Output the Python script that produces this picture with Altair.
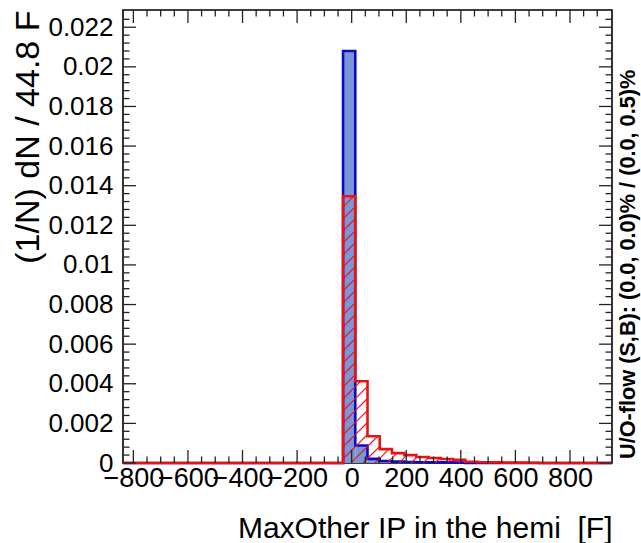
import altair as alt
import pandas as pd
import numpy as np

# ---------------- data ----------------
x_min = -838.0
bin_width = 44.8
n_bins = 40
x_max = x_min + n_bins * bin_width
y_max = 0.02287

signal = [0] * 18 + [0.0208, 0.00088, 0.00021, 0.0001, 0.00007, 0.00005,
                     0.00004, 0.00003, 0.00003, 0.00002] + [0] * 12
background = [0] * 18 + [0.01347, 0.00413, 0.00135, 0.0007, 0.0005, 0.0004,
                         0.0003, 0.00025, 0.0002, 0.00016, 0.00006, 0.00004,
                         0.00003, 0.00002, 0.00002, 0.00001] + [0] * 6

x_major = [-800, -600, -400, -200, 0, 200, 400, 600, 800]
x_minor = [-750, -700, -650, -550, -500, -450, -350, -300, -250, -150, -100, -50,
           50, 100, 150, 250, 300, 350, 450, 500, 550, 650, 700, 750, 850, 900]
y_major = [0, 0.002, 0.004, 0.006, 0.008, 0.01, 0.012, 0.014, 0.016, 0.018, 0.02, 0.022]
y_minor = [0.0004, 0.0008, 0.0012, 0.0016, 0.0024, 0.0028, 0.0032, 0.0036,
           0.0044, 0.0048, 0.0052, 0.0056, 0.0064, 0.0068, 0.0072, 0.0076,
           0.0084, 0.0088, 0.0092, 0.0096, 0.0104, 0.0108, 0.0112, 0.0116,
           0.0124, 0.0128, 0.0132, 0.0136, 0.0144, 0.0148, 0.0152, 0.0156,
           0.0164, 0.0168, 0.0172, 0.0176, 0.0184, 0.0188, 0.0192, 0.0196,
           0.0204, 0.0208, 0.0212, 0.0216, 0.0224]

x_title = "MaxOther IP in the hemi\u00a0 [F]"
y_title = "(1/N) dN / 44.8 F"
uo_text = "U/O-flow (S,B): (0.0, 0.0)% / (0.0, 0.5)%"

# ---------------- layout / style ----------------
W, H = 489, 453
FONT = "Liberation Sans"
BLUE_FILL = "#7b96d6"
BLUE_LINE = "#0a0ac8"
RED = "#e81414"
MAJ, MIN = 13, 6.5

edges = [x_min + k * bin_width for k in range(n_bins + 1)]

sig_rect = pd.DataFrame({"x": edges[:-1], "x2": edges[1:], "y": signal, "y0": 0.0})
sig_rect = sig_rect[sig_rect["y"] > 0]
sig_step = pd.DataFrame({"x": edges, "y": signal + [signal[-1]]})
bkg_step = pd.DataFrame({"x": edges, "y": background + [background[-1]]})

# hatch pattern for background (45 degree lines in pixel space)
kx = W / (x_max - x_min)
ky = H / y_max
S = 12.0
hatch = []
for k, v in enumerate(background):
    if v <= 0:
        continue
    x0p = (edges[k] - x_min) * kx
    x1p = (edges[k + 1] - x_min) * kx
    hp = v * ky
    nmin = int(np.floor(-x1p / S)) - 1
    nmax = int(np.ceil((hp - x0p) / S)) + 1
    for n in range(nmin, nmax + 1):
        c = n * S
        xs = max(x0p, -c)
        xe = min(x1p, hp - c)
        if xe - xs > 0.8:
            hatch.append({"x": x_min + xs / kx, "y": (xs + c) / ky,
                          "x2": x_min + xe / kx, "y2": (xe + c) / ky})
hatch = pd.DataFrame(hatch)

xscale = alt.Scale(domain=[x_min, x_max], nice=False, zero=False)
yscale = alt.Scale(domain=[0, y_max], nice=False, zero=False)

xaxis = alt.Axis(values=x_major, format="d", ticks=False, tickSize=0, domain=False,
                 grid=False, labelFont=FONT, labelFontSize=27, labelColor="black",
                 labelPadding=2, labelOverlap=False, labelFlush=False, labelBound=False,
                 title=x_title, titleFont=FONT, titleFontSize=30, titleFontWeight="normal",
                 titleColor="black", titleAnchor="end", titleAlign="right",
                 titleBaseline="alphabetic", titleX=W, titleY=74)
yaxis = alt.Axis(values=y_major, format="~g", ticks=False, tickSize=0, domain=False,
                 grid=False, labelFont=FONT, labelFontSize=26, labelColor="black",
                 labelPadding=10, labelOverlap=False, labelFlush=False, labelBound=False,
                 title=y_title, titleFont=FONT, titleFontSize=34, titleFontWeight="normal",
                 titleColor="black", titleAngle=270, titleAlign="right",
                 titleBaseline="alphabetic", titleX=-85, titleY=0)

X = alt.X("x:Q", scale=xscale, axis=xaxis)
Y = alt.Y("y:Q", scale=yscale, axis=yaxis)

rect_layer = alt.Chart(sig_rect).mark_rect(color=BLUE_FILL, strokeWidth=0).encode(
    x=X, x2="x2:Q", y=Y, y2="y0:Q")
sig_line = alt.Chart(sig_step).mark_line(interpolate="step-after", color=BLUE_LINE,
                                         strokeWidth=2.6).encode(x=X, y=Y)
hatch_layer = alt.Chart(hatch).mark_rule(color=RED, strokeWidth=1.1).encode(
    x=X, y=Y, x2="x2:Q", y2="y2:Q")
bkg_line = alt.Chart(bkg_step).mark_line(interpolate="step-after", color=RED,
                                         strokeWidth=2.6).encode(x=X, y=Y)

xmaj_df = pd.DataFrame({"x": x_major})
xmin_df = pd.DataFrame({"x": x_minor})
ymaj_df = pd.DataFrame({"y": y_major})
ymin_df = pd.DataFrame({"y": y_minor})
tick_style = dict(color="#222222", strokeWidth=1.3)

ticks = [
    alt.Chart(xmaj_df).mark_rule(**tick_style).encode(x=X, y=alt.value(H), y2=alt.value(H - MAJ)),
    alt.Chart(xmin_df).mark_rule(**tick_style).encode(x=X, y=alt.value(H), y2=alt.value(H - MIN)),
    alt.Chart(xmaj_df).mark_rule(**tick_style).encode(x=X, y=alt.value(0), y2=alt.value(MAJ)),
    alt.Chart(xmin_df).mark_rule(**tick_style).encode(x=X, y=alt.value(0), y2=alt.value(MIN)),
    alt.Chart(ymaj_df).mark_rule(**tick_style).encode(y=Y, x=alt.value(0), x2=alt.value(MAJ)),
    alt.Chart(ymin_df).mark_rule(**tick_style).encode(y=Y, x=alt.value(0), x2=alt.value(MIN)),
    alt.Chart(ymaj_df).mark_rule(**tick_style).encode(y=Y, x=alt.value(W), x2=alt.value(W - MAJ)),
    alt.Chart(ymin_df).mark_rule(**tick_style).encode(y=Y, x=alt.value(W), x2=alt.value(W - MIN)),
]

uo_layer = alt.Chart(pd.DataFrame({"t": [uo_text]})).mark_text(
    angle=270, align="left", baseline="middle", font=FONT, fontSize=21.7,
    fontWeight="bold", color="black").encode(
    text="t:N", x=alt.value(W + 16), y=alt.value(H - 4))

chart = alt.layer(rect_layer, sig_line, hatch_layer, bkg_line, *ticks, uo_layer).properties(
    width=W, height=H,
    autosize=alt.AutoSizeParams(type="none"),
    padding={"left": 123, "top": 10, "right": 641 - 123 - W, "bottom": 543 - 10 - H},
    background="white",
).configure_view(stroke="black", strokeWidth=1.6)

chart.save("out.html", embed_options={"renderer": "svg", "actions": False})
